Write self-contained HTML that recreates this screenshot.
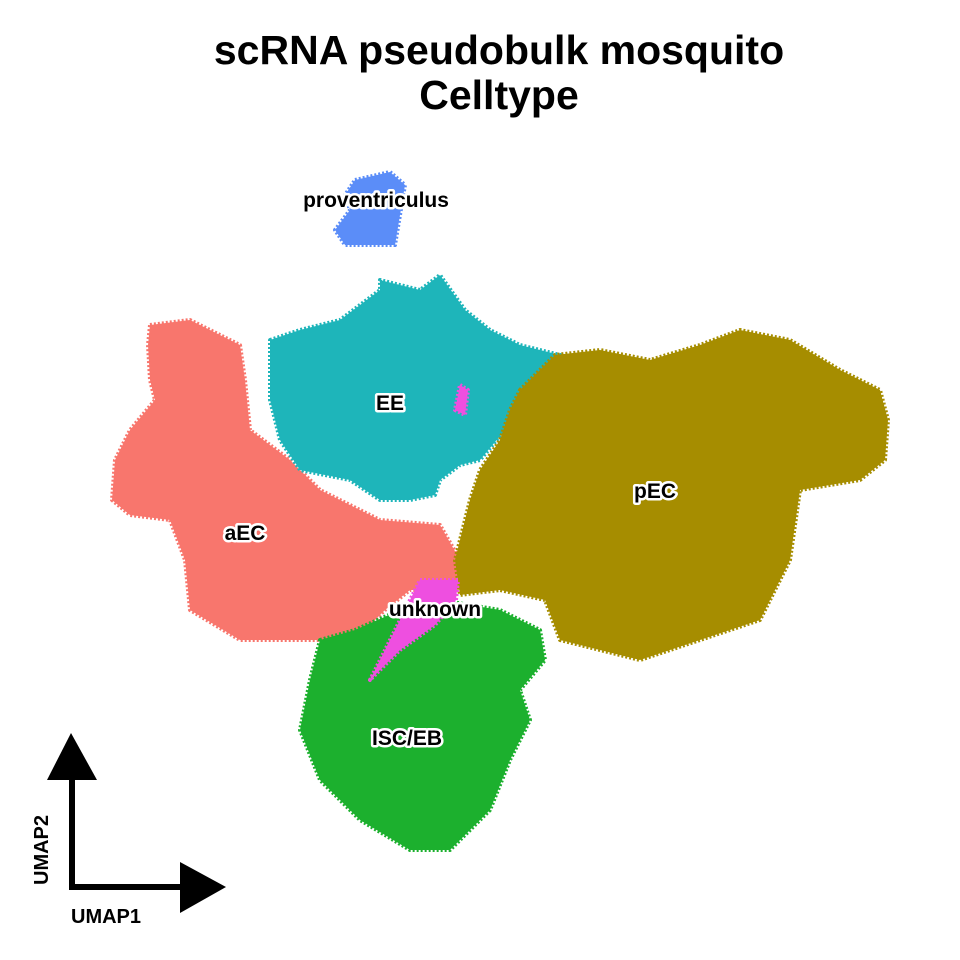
<!DOCTYPE html>
<html><head><meta charset="utf-8">
<style>
html,body{margin:0;padding:0;background:#fff;}
svg{display:block;font-family:"Liberation Sans",Arial,sans-serif;}
</style></head>
<body>
<svg id="chart" width="960" height="960" viewBox="0 0 960 960">
  <text x="499" y="64" text-anchor="middle" font-size="41" font-weight="bold">scRNA pseudobulk mosquito</text>
  <text x="499" y="109" text-anchor="middle" font-size="41" font-weight="bold">Celltype</text>
  <g id="clusters"></g>
  <g id="labels"></g>
  <g>
    <line x1="72" y1="890" x2="72" y2="775" stroke="#000" stroke-width="6"/>
    <polygon points="71,733 47,780 97,780" fill="#000"/>
    <line x1="69" y1="887" x2="185" y2="887" stroke="#000" stroke-width="6"/>
    <polygon points="226,887 180,862 180,913" fill="#000"/>
    <text x="71" y="923" font-size="20" font-weight="bold">UMAP1</text>
    <text transform="translate(48,850) rotate(-90)" text-anchor="middle" font-size="20" font-weight="bold">UMAP2</text>
  </g>
</svg>
<script>
// UMAP-space cluster outlines (data units) and label positions
const clusterNames = ["aEC","EE","pEC","ISC/EB","unknown","unknown-ee","proventriculus"];
const clusterColors = ["#F8766D","#1EB5BA","#A68D00","#1CB02E","#EE4FE0","#EE4FE0","#5B8DF8"];
const aECOutline = [[15,63.5],[19,64],[24,61.5],[24.5,58],[25,53],[29,50],[32,47],[38,44],[44,43.5],[46,40],[45.5,37],[41,37],[38.5,35],[35.5,32],[30,32],[24,32],[19,35],[18.5,40],[17,44],[13,44.5],[11.2,46],[11.5,50],[13,53],[15.5,56],[15,58],[14.8,61.5]];
const EEOutline = [[27,62],[30,63],[34,64],[38,67],[38,68],[42,67],[44,68.5],[46.5,65],[49,63],[52,61.5],[56,60.5],[52,57],[50.5,53],[48,50],[46,49.5],[44,48],[43.5,46.5],[41,46],[38,46],[35,48],[30,49],[28,52],[27,56]];
const pECOutline = [[52,57],[55.5,60.5],[60,61],[65,60],[70,61.5],[74,63],[79,62],[84,59],[88,57],[88.8,54],[88.5,50],[86,48],[80,47],[79,40],[76,34],[70,32],[64,30],[56,32],[54.5,36],[50,37],[46,36.5],[45.5,40],[47,46],[48,49],[50,52],[51,55]];
const ISCOutline = [[32,32],[35.5,33],[40,35],[44,36],[50,35],[54,33],[54.5,30],[52,27],[53,24],[51,20],[49,15],[45,11],[41,11],[36,14],[32,18],[30,23],[31,28]];
const unknownOutline = [[42,38],[45.8,38],[45.6,36],[43.5,33.5],[40,31],[37,28],[39,32],[41,36]];
const unknownEEOutline = [[46,57.5],[46.8,57],[46.5,54.5],[45.5,55]];
const provOutline = [[35.5,78],[39,78.8],[40.5,77.5],[40,74.5],[39.5,71.5],[34.5,71.5],[33.5,73],[35,75],[34.5,76.5]];
const labelTexts = ["proventriculus","EE","pEC","aEC","unknown","ISC/EB"];
const labelU = [37.6,39,65.5,24.5,43.5,40.7];
const labelV = [75.3,55,46.2,42,34.4,21.5];

function xs(u){return u*10;}
function ys(v){return 960 - v*10;}

const outlines = [aECOutline,EEOutline,pECOutline,ISCOutline,unknownOutline,unknownEEOutline,provOutline];
const NS="http://www.w3.org/2000/svg";
const cg=document.getElementById('clusters');
outlines.forEach((pts,i)=>{
  const p=document.createElementNS(NS,'polygon');
  p.setAttribute('points',pts.map(d=>xs(d[0])+','+ys(d[1])).join(' '));
  p.setAttribute('fill',clusterColors[i]);
  p.setAttribute('stroke',clusterColors[i]);
  p.setAttribute('stroke-width','4');
  p.setAttribute('stroke-linejoin','round');
  p.setAttribute('stroke-dasharray','2 2');
  
  
  cg.appendChild(p);
});
const lg=document.getElementById('labels');
labelTexts.forEach((t,i)=>{
  const tx=document.createElementNS(NS,'text');
  tx.setAttribute('x',xs(labelU[i]));
  tx.setAttribute('y',ys(labelV[i]));
  tx.setAttribute('text-anchor','middle');
  tx.setAttribute('font-size','21');
  tx.setAttribute('font-weight','bold');
  tx.setAttribute('stroke','#fff');
  tx.setAttribute('stroke-width','5');
  tx.setAttribute('paint-order','stroke');
  tx.setAttribute('stroke-linejoin','round');
  tx.textContent=t;
  
  
  lg.appendChild(tx);
});
</script>
</body></html>
